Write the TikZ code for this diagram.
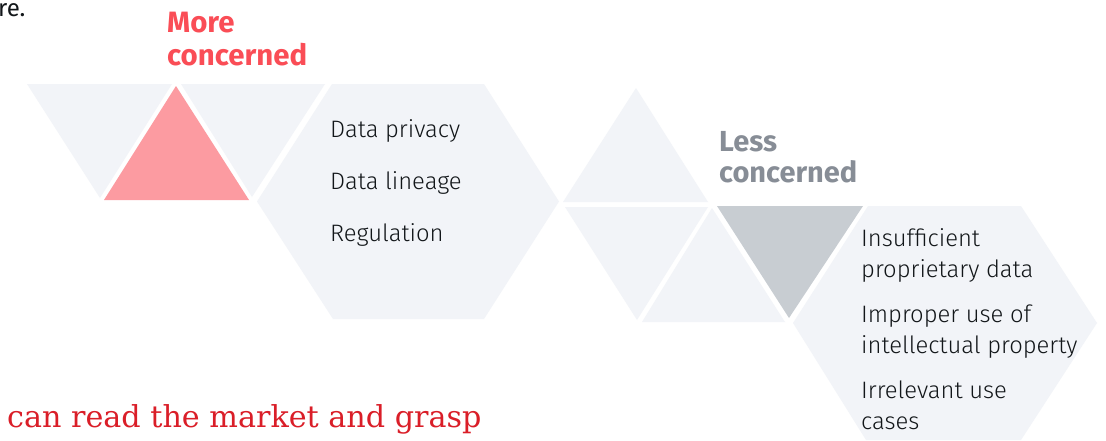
\documentclass[tikz,border=0pt]{standalone}
\usepackage{fontspec}
\setmainfont{Fira Sans}
\newfontfamily\bodyfont{Fira Sans Light}
\newfontfamily\headfont{Fira Sans Bold}
\newfontfamily\quotefont{DejaVu Serif}
\definecolor{cellgray}{HTML}{F2F4F8}
\definecolor{pinktri}{HTML}{FC9BA1}
\definecolor{graytri}{HTML}{C8CDD2}
\definecolor{morered}{HTML}{FA4D56}
\definecolor{lessgray}{HTML}{878D96}
\definecolor{bodytext}{HTML}{121619}
\definecolor{quotered}{HTML}{DA1E28}
\tikzset{
  cell/.style={fill=cellgray},
  bodytxt/.style={anchor=base west, inner sep=0pt, text=bodytext, font=\bodyfont\fontsize{23.8}{23.8}\selectfont},
  moretxt/.style={anchor=base west, inner sep=0pt, text=morered, font=\headfont\fontsize{29.4}{29.4}\selectfont},
  lesstxt/.style={anchor=base west, inner sep=0pt, text=lessgray, font=\headfont\fontsize{29}{29}\selectfont},
  quotetxt/.style={anchor=base west, inner sep=0pt, text=quotered, font=\quotefont\fontsize{30.2}{30.2}\selectfont},
}
\begin{document}
\begin{tikzpicture}[x=1pt,y=-1pt]
\useasboundingbox (0,0) rectangle (1106,440);
\fill[white] (0,0) rectangle (1106,440);
% left group
\fill[cell] (27,84) -- (172,84) -- (100,198) -- cycle;
\fill[pinktri] (176,86) -- (249,200) -- (104,200) -- cycle;
\fill[cell] (181,84) -- (325,84) -- (252,197) -- cycle;
\fill[cell] (332,84) -- (484,84) -- (559,201.5) -- (484,319) -- (333,319) -- (257,201.5) -- cycle;
% middle group
\fill[cell] (636,88) -- (708,202) -- (563,202) -- cycle;
\fill[cell] (565,207) -- (708,207) -- (637,320) -- cycle;
\fill[cell] (712,208) -- (785,322) -- (642,322) -- cycle;
\fill[graytri] (717,206) -- (863,206) -- (789,318) -- cycle;
% right hexagon
\fill[cell] (868,206) -- (1021,206) -- (1097,323) -- (1021,440) -- (866,440) -- (793,323) -- cycle;
% texts
\node[anchor=base west, inner sep=0pt, text=bodytext, font=\fontsize{24}{24}\selectfont] (re) at (-2,16) {re.};
\node[moretxt] (more1) at (167,32) {More};
\node[moretxt] (more2) at (167,65) {concerned};
\node[lesstxt] (less1) at (719,151) {Less};
\node[lesstxt] (less2) at (719,182) {concerned};
\node[bodytxt] (p1) at (330,137) {Data privacy};
\node[bodytxt] (p2) at (330,189) {Data lineage};
\node[bodytxt] (p3) at (330,241) {Regulation};
\node[bodytxt] (q1) at (861,246) {Insufficient};
\node[bodytxt] (q2) at (861,277.5) {proprietary data};
\node[bodytxt] (q3) at (861,322) {Improper use of};
\node[bodytxt] (q4) at (861,353.5) {intellectual property};
\node[bodytxt] (q5) at (861,398) {Irrelevant use};
\node[bodytxt] (q6) at (861,429.5) {cases};
\node[quotetxt] (quote) at (7,427) {can read the market and grasp};
\end{tikzpicture}
\end{document}
